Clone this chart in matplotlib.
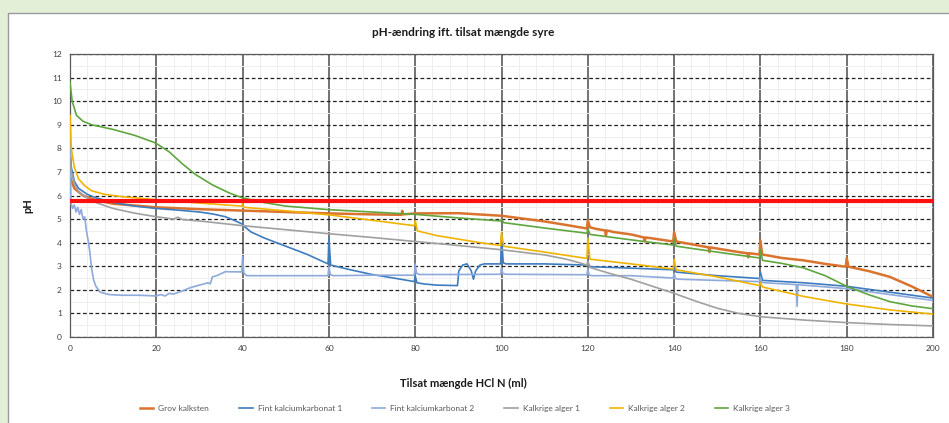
import matplotlib
matplotlib.use("Agg")
import matplotlib.pyplot as plt
from matplotlib.patches import Rectangle
from matplotlib.ticker import MultipleLocator

plt.rcParams['font.family'] = ['Lato', 'DejaVu Sans']

title = "pH-ændring ift. tilsat mængde syre"
xlabel = "Tilsat mængde HCl N (ml)"
ylabel = "pH"
ph_limit = 5.75

# Grov kalksten
x_grov = [0, 1, 3, 6, 10, 20, 30, 40, 50, 60, 70, 76.8, 77, 77.2, 80, 90, 100, 105, 110, 115,
          119.8, 120, 120.5, 122, 124, 124.2, 124.4, 126, 130, 133, 133.2, 133.4, 135, 139.8, 140, 140.5,
          145, 148, 148.2, 148.4, 150, 155, 157, 157.2, 157.4, 159.8, 160, 160.4, 165, 170, 175, 179.8,
          180, 180.4, 185, 190, 195, 200]
y_grov = [6.8, 6.3, 6.0, 5.8, 5.65, 5.5, 5.42, 5.36, 5.3, 5.24, 5.2, 5.18, 5.35, 5.2, 5.24, 5.25, 5.14,
          5.02, 4.9, 4.75, 4.6, 4.95, 4.65, 4.58, 4.52, 4.3, 4.52, 4.45, 4.35, 4.22, 4.05, 4.22, 4.18, 4.05,
          4.45, 4.05, 3.9, 3.8, 3.6, 3.8, 3.75, 3.6, 3.55, 3.38, 3.55, 3.5, 4.1, 3.5, 3.35, 3.25, 3.1, 2.98,
          3.35, 2.98, 2.8, 2.55, 2.15, 1.7]

# Fint kalciumkarbonat 1
x_fint1 = [0, 0.3, 1, 2, 4, 6, 10, 15, 20, 25, 30, 33, 36, 38, 39.8, 40, 40.3, 42, 45, 50, 55, 59.8, 60, 60.4,
           65, 70, 75, 79.8, 80, 80.4, 82, 85, 89.8, 90.1, 91, 92, 93, 93.5, 94, 95, 96, 99.8, 100, 100.4, 101,
           110, 119.8, 120, 120.5, 130, 139.8, 140, 140.5, 150, 159.8, 160, 160.5, 170, 180, 190, 200]
y_fint1 = [8.0, 7.2, 6.6, 6.3, 6.05, 5.9, 5.7, 5.55, 5.45, 5.38, 5.3, 5.22, 5.1, 4.95, 4.8, 4.8, 4.7, 4.45, 4.2,
           3.85, 3.5, 3.1, 4.2, 3.05, 2.85, 2.65, 2.5, 2.35, 2.6, 2.3, 2.25, 2.2, 2.18, 2.8, 3.05, 3.1, 2.8, 2.45,
           2.8, 3.05, 3.1, 3.1, 4.3, 3.15, 3.1, 3.1, 3.05, 3.15, 2.98, 2.92, 2.85, 2.95, 2.75, 2.6, 2.48, 2.75,
           2.4, 2.3, 2.15, 1.9, 1.65]

# Fint kalciumkarbonat 2
x_fint2 = [0, 0.2, 0.6, 1, 1.4, 1.8, 2.2, 2.6, 3, 3.4, 3.8, 4.2, 4.6, 5, 5.5, 6, 7, 9, 12, 16, 20, 21, 22, 23,
           24, 26, 28, 30, 32, 32.5, 33, 34, 36, 39.8, 40, 40.3, 41, 50, 59.8, 60, 60.3, 61, 70, 79.8, 80, 80.3,
           81, 90, 99.8, 100, 100.3, 101, 110, 119.8, 120, 120.3, 121, 130, 139.8, 140, 140.3, 141, 150, 159.8,
           160, 160.3, 161, 168.3, 168.5, 168.7, 170, 180, 190, 200]
y_fint2 = [8.6, 5.7, 5.45, 5.6, 5.3, 5.5, 5.2, 5.4, 5.0, 5.1, 4.5, 4.1, 3.6, 2.9, 2.4, 2.15, 1.9, 1.8, 1.77,
           1.77, 1.74, 1.8, 1.74, 1.85, 1.82, 1.95, 2.1, 2.2, 2.3, 2.25, 2.55, 2.6, 2.77, 2.76, 3.4, 2.7, 2.6,
           2.6, 2.6, 3.0, 2.65, 2.6, 2.62, 2.62, 3.1, 2.7, 2.65, 2.65, 2.66, 2.95, 2.7, 2.66, 2.65, 2.64, 2.9,
           2.62, 2.6, 2.6, 2.5, 2.7, 2.48, 2.45, 2.4, 2.35, 2.55, 2.32, 2.3, 2.22, 1.3, 2.22, 2.2, 2.05, 1.8, 1.55]

# Kalkrige alger 1
x_alger1 = [0, 0.3, 1, 2, 4, 6, 10, 15, 20, 24, 25, 26, 30, 40, 50, 60, 70, 80, 90, 100, 110, 115, 118,
            119.8, 120, 120.5, 125, 130, 135, 140, 145, 150, 155, 160, 170, 180, 190, 200]
y_alger1 = [7.6, 7.0, 6.5, 6.15, 5.9, 5.7, 5.45, 5.25, 5.1, 5.0, 5.08, 4.98, 4.92, 4.72, 4.55, 4.38, 4.22,
            4.05, 3.88, 3.7, 3.48, 3.3, 3.15, 3.05, 3.2, 2.95, 2.7, 2.45, 2.15, 1.85, 1.52, 1.22, 1.0, 0.86,
            0.72, 0.61, 0.53, 0.47]

# Kalkrige alger 2
x_alger2 = [0, 0.3, 1, 2, 3.5, 5, 8, 12, 20, 30, 39.8, 40, 40.3, 50, 60, 70, 79.8, 80, 80.5, 85, 90, 95,
            99.8, 100, 100.5, 110, 119.8, 120, 120.5, 130, 139.8, 140, 140.5, 150, 159.8, 160, 160.5, 170,
            180, 190, 200]
y_alger2 = [9.4, 8.0, 7.2, 6.7, 6.4, 6.2, 6.05, 5.95, 5.82, 5.68, 5.55, 5.65, 5.5, 5.35, 5.18, 4.95, 4.72,
            4.95, 4.5, 4.3, 4.15, 4.0, 3.88, 4.45, 3.85, 3.6, 3.33, 4.2, 3.3, 3.1, 2.88, 3.3, 2.85, 2.55,
            2.18, 2.3, 2.12, 1.72, 1.4, 1.15, 0.97]

# Kalkrige alger 3
x_alger3 = [0, 0.5, 1.5, 3, 5, 10, 15, 19.5, 20, 20.5, 23, 26, 29, 33, 37, 40, 45, 50, 60, 70, 80, 90,
            99.8, 100, 100.5, 110, 119.8, 120, 120.5, 130, 139.8, 140, 140.5, 150, 159.8, 160, 160.5, 165,
            170, 175, 180, 185, 190, 195, 200]
y_alger3 = [10.8, 10.0, 9.4, 9.15, 9.0, 8.8, 8.55, 8.25, 8.2, 8.15, 7.85, 7.35, 6.9, 6.45, 6.1, 5.9, 5.7,
            5.55, 5.4, 5.3, 5.2, 5.05, 4.92, 5.0, 4.85, 4.62, 4.4, 4.6, 4.35, 4.12, 3.9, 4.15, 3.85, 3.6,
            3.35, 3.7, 3.25, 3.12, 2.93, 2.6, 2.15, 1.8, 1.5, 1.32, 1.2]

series = [
    ("Grov kalksten", x_grov, y_grov, "#D9732E"),
    ("Fint kalciumkarbonat 1", x_fint1, y_fint1, "#3E7CC0"),
    ("Fint kalciumkarbonat 2", x_fint2, y_fint2, "#8EA9DB"),
    ("Kalkrige alger 1", x_alger1, y_alger1, "#A0A0A0"),
    ("Kalkrige alger 2", x_alger2, y_alger2, "#F0B400"),
    ("Kalkrige alger 3", x_alger3, y_alger3, "#5FA63E"),
]

fig = plt.figure(figsize=(9.49, 4.23), dpi=100)
fig.patch.set_facecolor("#E4EFD8")
panel = Rectangle((8 / 949, -0.01), 1.0, 1.01 - 13 / 423, transform=fig.transFigure,
                  facecolor="white", edgecolor="#9A9A9A", linewidth=1.0, zorder=-10)
fig.patches.append(panel)

ax = fig.add_axes([70 / 949, 1 - 337 / 423, 863 / 949, 283 / 423])
ax.set_facecolor("white")
ax.set_xlim(0, 200)
ax.set_ylim(0, 12)
ax.xaxis.set_major_locator(MultipleLocator(20))
ax.yaxis.set_major_locator(MultipleLocator(1))
ax.xaxis.set_minor_locator(MultipleLocator(4))
ax.yaxis.set_minor_locator(MultipleLocator(0.5))
ax.grid(which="minor", color="#EEEEEE", linewidth=0.7)
ax.grid(which="major", axis="x", color="#5A5A5A", linewidth=1.2)
ax.grid(which="major", axis="y", color="#222222", linewidth=0.9, linestyle=(0, (3, 2)))
ax.set_axisbelow(True)
for s in ax.spines.values():
    s.set_color("#595959")
    s.set_linewidth(0.9)
ax.tick_params(which="both", length=0, labelsize=6, colors="#404040", pad=6)

for name, xs, ys, col in series:
    lw = 1.8 if name == "Grov kalksten" else 1.2
    ax.plot(xs, ys, color=col, linewidth=lw, label=name, zorder=3)

ax.axhline(ph_limit, color="#FF1010", linewidth=3, zorder=4)

fig.text(463 / 949, 1 - 33 / 423, title, ha="center", va="center", fontsize=8.5,
         fontweight="bold", color="#1A1A1A")
fig.text(463 / 949, 1 - 383 / 423, xlabel, ha="center", va="center", fontsize=8,
         fontweight="bold", color="#1A1A1A")
fig.text(28 / 949, 1 - 206 / 423, ylabel, ha="center", va="center", fontsize=8,
         fontweight="bold", color="#1A1A1A", rotation=90)

handles, labels = ax.get_legend_handles_labels()
fig.legend(handles, labels, loc="center", bbox_to_anchor=(465 / 949, 1 - 408 / 423), ncol=6,
           frameon=False, fontsize=6, labelcolor="#595959", handlelength=1.6,
           columnspacing=3.6, handletextpad=0.6)

fig.savefig("out.png", dpi=100)
